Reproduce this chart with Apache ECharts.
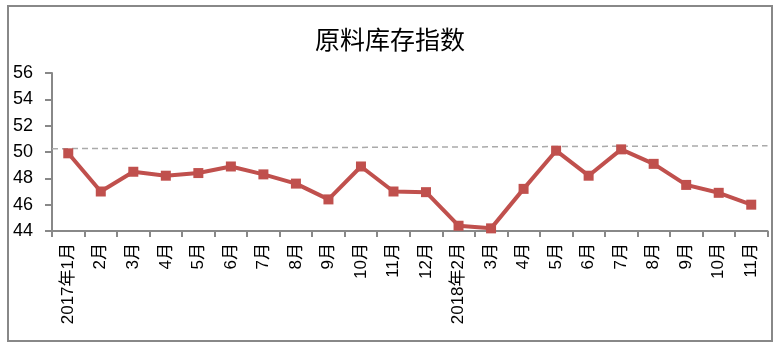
<!DOCTYPE html>
<html>
<head>
<meta charset="utf-8">
<script src="https://cdn.jsdelivr.net/npm/echarts@6/dist/echarts.min.js"></script>
<style>html,body{margin:0;padding:0;background:#fff}#c{width:780px;height:349px}</style>
</head>
<body>
<div id="c"></div>
<script>
var categories = ['2017年1月','2月','3月','4月','5月','6月','7月','8月','9月','10月','11月','12月','2018年2月','3月','4月','5月','6月','7月','8月','9月','10月','11月'];
var indexValues = [49.9,47.0,48.5,48.2,48.4,48.9,48.3,47.6,46.4,48.9,47.0,46.95,44.4,44.2,47.2,50.1,48.2,50.2,49.1,47.5,46.9,46.0];
var refLine = [[0,50.25],[1,50.48]];
var yTicks = {min:44, max:56, interval:2};

var chart = echarts.init(document.getElementById('c'));
chart.setOption({
  animation:false,
  backgroundColor:'#fff',
  title:{text:'原料库存指数', left:'center', top:22,
    textStyle:{fontSize:25, fontWeight:'normal', color:'#000', fontFamily:'Noto Sans CJK SC'}},
  graphic:[{type:'rect', shape:{x:8,y:6,width:764,height:335}, style:{fill:'none', stroke:'#888', lineWidth:2}, silent:true}],
  grid:{left:52, right:12.5, top:73, bottom:118},
  xAxis:[{
    type:'category', data:categories, boundaryGap:true,
    axisLine:{lineStyle:{color:'#888', width:2}},
    axisTick:{show:true, alignWithLabel:false, length:6, lineStyle:{color:'#888', width:2}},
    axisLabel:{rotate:90, interval:0, margin:12, fontSize:17, color:'#000', fontFamily:'Liberation Sans, Noto Sans CJK SC'}
  },{
    type:'value', min:0, max:1, show:false
  }],
  yAxis:{
    type:'value', min:yTicks.min, max:yTicks.max, interval:yTicks.interval,
    axisLine:{show:true, lineStyle:{color:'#888', width:2}},
    axisTick:{show:true, length:7, lineStyle:{color:'#888', width:2}},
    splitLine:{show:false},
    axisLabel:{fontSize:18, color:'#000', margin:19, fontFamily:'Liberation Sans'}
  },
  series:[{
    type:'line', xAxisIndex:1, data:refLine, symbol:'none', silent:true,
    lineStyle:{color:'#aaa', width:1.5, type:[6,4]}, z:1
  },{
    type:'line', data:indexValues, symbol:'rect', symbolSize:10,
    itemStyle:{color:'#c0504d'}, lineStyle:{color:'#c0504d', width:4}, z:3
  }]
});
</script>
</body>
</html>
